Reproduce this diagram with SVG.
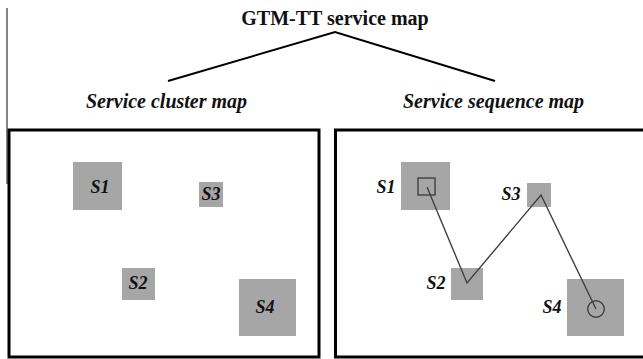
<svg xmlns="http://www.w3.org/2000/svg" width="643" height="359" viewBox="0 0 643 359">
  <style>
    .title { font-family: "Liberation Serif", "Times New Roman", serif; font-size: 20px; font-weight: bold; fill: #111; }
    .sub { font-family: "Liberation Serif", "Times New Roman", serif; font-size: 20px; font-weight: bold; font-style: italic; fill: #111; }
    .lbl { font-family: "Liberation Serif", "Times New Roman", serif; font-size: 18px; font-weight: bold; font-style: italic; fill: #111; }
    .panel { fill: #fff; stroke: #000; stroke-width: 3; }
    .svc { fill: #a6a6a6; }
    .tree { fill: none; stroke: #000; stroke-width: 2; }
    .path { fill: none; stroke: #404040; stroke-width: 1.4; stroke-linejoin: miter; }
  </style>

  <rect width="643" height="359" fill="#fff"/>

  <!-- margin rule at the left -->
  <line x1="7" y1="8" x2="7" y2="184" stroke="#666" stroke-width="1.6"/>

  <!-- heading and its two branches -->
  <g id="title">
    <text class="title" x="335" y="25" text-anchor="middle">GTM-TT service map</text>
  </g>
  <g id="tree-branches">
    <polyline class="tree" points="168,81 335,32 495,81"/>
  </g>
  <g id="cluster-heading">
    <text class="sub" x="86" y="108">Service cluster map</text>
  </g>
  <g id="sequence-heading">
    <text class="sub" x="403" y="108">Service sequence map</text>
  </g>

  <!-- cluster panel -->
  <g id="cluster-map">
    <rect class="panel" x="9" y="130" width="310" height="227"/>
    <g id="c-s1">
      <rect class="svc" x="73" y="162" width="49" height="48"/>
      <text class="lbl" x="100" y="193" text-anchor="middle">S1</text>
    </g>
    <g id="c-s3">
      <rect class="svc" x="199" y="182" width="24" height="25"/>
      <text class="lbl" x="211" y="200" text-anchor="middle">S3</text>
    </g>
    <g id="c-s2">
      <rect class="svc" x="122" y="268" width="33" height="32"/>
      <text class="lbl" x="138" y="289" text-anchor="middle">S2</text>
    </g>
    <g id="c-s4">
      <rect class="svc" x="239" y="279" width="57" height="57"/>
      <text class="lbl" x="265" y="313" text-anchor="middle">S4</text>
    </g>
  </g>

  <!-- sequence panel -->
  <g id="sequence-map">
    <rect class="panel" x="335.5" y="130" width="320" height="227"/>
    <g id="q-s1">
      <rect class="svc" x="401" y="162" width="49" height="48"/>
      <rect x="418" y="178" width="17" height="17" fill="none" stroke="#404040" stroke-width="1.4"/>
      <text class="lbl" x="386" y="193" text-anchor="middle">S1</text>
    </g>
    <g id="q-s3">
      <rect class="svc" x="527" y="183" width="24" height="24"/>
      <text class="lbl" x="511" y="200" text-anchor="middle">S3</text>
    </g>
    <g id="q-s2">
      <rect class="svc" x="451" y="268" width="32" height="32"/>
      <text class="lbl" x="436" y="289" text-anchor="middle">S2</text>
    </g>
    <g id="q-s4">
      <rect class="svc" x="567" y="279" width="57" height="57"/>
      <circle cx="596" cy="309" r="8.3" fill="none" stroke="#404040" stroke-width="1.4"/>
      <text class="lbl" x="552" y="313" text-anchor="middle">S4</text>
    </g>
  </g>

  <!-- visiting order S1 -> S2 -> S3 -> S4 -->
  <g id="connectors">
    <polyline class="path" points="427,187 467,283 541,195 596,309"/>
  </g>
</svg>
